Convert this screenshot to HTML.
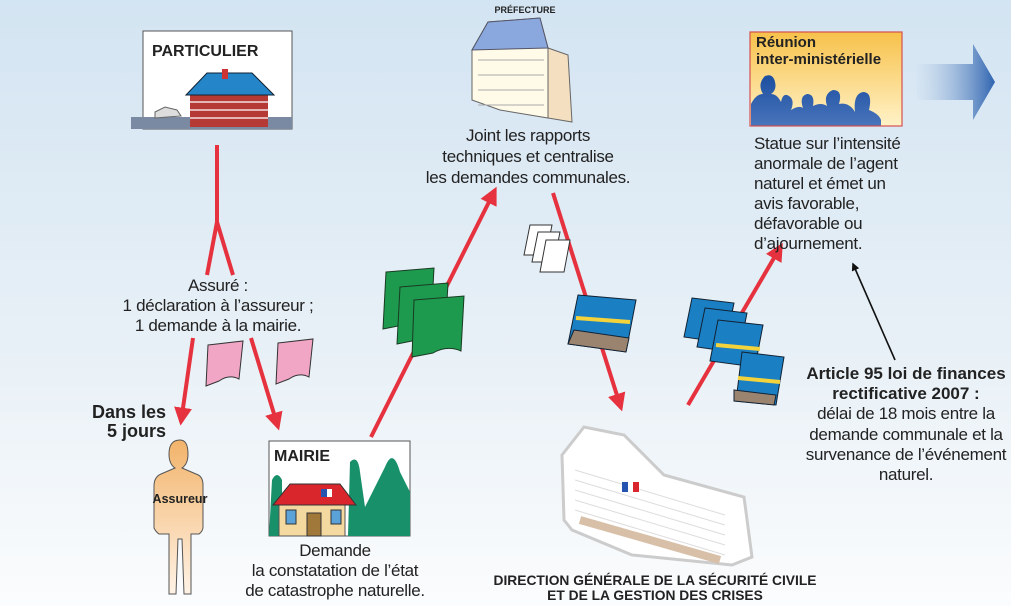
<!DOCTYPE html>
<html><head><meta charset="utf-8"><style>
html,body{margin:0;padding:0;width:1011px;height:606px;overflow:hidden}
svg{display:block}
text{font-family:"Liberation Sans",sans-serif;fill:#222}
.t{font-size:17px;letter-spacing:-0.3px}
.b{font-weight:bold}
</style></head><body>
<svg width="1011" height="606" viewBox="0 0 1011 606" xmlns="http://www.w3.org/2000/svg">
<defs>
<linearGradient id="bg" x1="0" y1="0" x2="0" y2="1"><stop offset="0" stop-color="#d3e4f2"/><stop offset="0.6" stop-color="#e9f1f7"/><stop offset="1" stop-color="#fbfcfd"/></linearGradient>
<linearGradient id="gold" x1="0" y1="0" x2="0" y2="1"><stop offset="0" stop-color="#f7c14a"/><stop offset="1" stop-color="#fff2c8"/></linearGradient>
<linearGradient id="ppl" x1="0" y1="0" x2="0" y2="1"><stop offset="0" stop-color="#1c4fa0"/><stop offset="1" stop-color="#5f86c8"/></linearGradient>
<linearGradient id="arr" x1="0" y1="0" x2="1" y2="0"><stop offset="0" stop-color="#cfe0f0" stop-opacity="0.3"/><stop offset="1" stop-color="#2e63b0"/></linearGradient>
<linearGradient id="man" x1="0" y1="0" x2="0" y2="1"><stop offset="0" stop-color="#f2b36a"/><stop offset="1" stop-color="#fff3e6"/></linearGradient>
<clipPath id="rc"><rect x="750" y="32" width="152" height="94"/></clipPath>
<marker id="ah" viewBox="0 0 10 10" refX="8" refY="5" markerWidth="4.5" markerHeight="4.5" orient="auto"><path d="M0,0L10,5L0,10z" fill="#e6323e"/></marker>
<marker id="bh" viewBox="0 0 10 10" refX="8" refY="5" markerWidth="5" markerHeight="5" orient="auto"><path d="M0,0L10,5L0,10z" fill="#111"/></marker>
</defs>
<rect width="1011" height="606" fill="url(#bg)"/>

<!-- PARTICULIER -->
<rect x="143" y="31" width="149" height="98" fill="#fff" stroke="#555" stroke-width="1"/>
<text x="152" y="56" class="b" font-size="16">PARTICULIER</text>
<rect x="131" y="117" width="161" height="12" fill="#7b8aa3"/>
<rect x="190" y="94" width="78" height="33" fill="#b53a36"/>
<g stroke="#fff" stroke-width="1.3"><line x1="190" y1="102" x2="268" y2="102"/><line x1="190" y1="110" x2="268" y2="110"/><line x1="190" y1="118" x2="268" y2="118"/></g>
<polygon points="186,95 207,73 252,73 274,95" fill="#2486c8" stroke="#123" stroke-width="1"/>
<rect x="222" y="69" width="6" height="10" fill="#c33"/>
<path d="M155,112 l10,-5 l12,3 l4,6 l-26,2z" fill="#ddd" stroke="#666"/>

<!-- red connectors -->
<g stroke="#e6323e" stroke-width="4" fill="none">
<polyline points="217,145 217,222"/><line x1="217" y1="222" x2="207" y2="275"/><line x1="217" y1="222" x2="233" y2="275"/>
<line x1="193" y1="338" x2="181" y2="422" marker-end="url(#ah)"/>
<line x1="251" y1="338" x2="278" y2="427" marker-end="url(#ah)"/>
<line x1="371" y1="437" x2="495" y2="190" marker-end="url(#ah)"/>
<line x1="553" y1="193" x2="621" y2="408" marker-end="url(#ah)"/>
<line x1="688" y1="405" x2="781" y2="246" marker-end="url(#ah)"/>
</g>
<line x1="895" y1="360" x2="853" y2="264" stroke="#111" stroke-width="1.6" marker-end="url(#bh)"/>

<text class="t" text-anchor="middle"><tspan x="218" y="291">Assuré :</tspan><tspan x="218" y="311">1 déclaration à l’assureur ;</tspan><tspan x="218" y="331">1 demande à la mairie.</tspan></text>

<!-- pink docs -->
<g fill="#f0a6c4" stroke="#333" stroke-width="1">
<path d="M208,345 l35,-4 l-4,38 q-10,-5 -20,2 l-13,5z"/>
<path d="M278,343 l35,-4 l-4,38 q-10,-5 -20,2 l-13,5z"/>
</g>

<text class="b" font-size="18" text-anchor="end"><tspan x="166" y="418">Dans les</tspan><tspan x="166" y="437">5 jours</tspan></text>

<!-- Assureur -->
<path d="M180,440 q-11,0 -11,14 q0,10 6,14 l-14,6 q-7,3 -7,12 l0,42 q2,4 5,6 l10,0 l0,60 l7,0 l2,-55 l4,0 l2,55 l7,0 l0,-60 l8,0 q4,-3 4,-7 l0,-42 q0,-9 -7,-11 l-14,-6 q6,-4 6,-14 q0,-14 -8,-14z" fill="url(#man)" stroke="#555" stroke-width="1"/>
<text x="180" y="503" text-anchor="middle" class="b" font-size="12.5">Assureur</text>

<!-- MAIRIE -->
<rect x="269" y="441" width="141" height="95" fill="#fff" stroke="#555"/>
<path d="M350,462 q8,-8 10,10 l5,35 l20,-40 q8,-20 15,5 l10,20 l0,44 l-62,0z" fill="#18906a"/>
<path d="M272,480 q5,-10 10,0 l0,56 l-13,0z" fill="#18906a"/>
<text x="274" y="461" class="b" font-size="16">MAIRIE</text>
<rect x="279" y="500" width="66" height="36" fill="#f3d9a0" stroke="#555"/>
<polygon points="273,505 290,484 340,484 356,505" fill="#d9252c" stroke="#333"/>
<rect x="286" y="510" width="10" height="14" fill="#5aa2d8" stroke="#333"/>
<rect x="331" y="510" width="10" height="14" fill="#5aa2d8" stroke="#333"/>
<rect x="307" y="513" width="14" height="23" fill="#a0783a" stroke="#333"/>
<rect x="321" y="489" width="6" height="8" fill="#2454b0"/><rect x="327" y="489" width="5" height="8" fill="#fff"/><rect x="332" y="489" width="6" height="8" fill="#d9252c"/>
<text class="t" text-anchor="middle"><tspan x="335" y="556">Demande</tspan><tspan x="335" y="576">la constatation de l’état</tspan><tspan x="335" y="596">de catastrophe naturelle.</tspan></text>

<!-- green docs -->
<g fill="#1d9a4e" stroke="#1a3a22" stroke-width="1">
<path d="M386,272 l48,-4 l-3,55 q-14,-6 -28,2 l-20,4z"/>
<path d="M400,287 l48,-4 l-3,55 q-14,-6 -28,2 l-20,4z"/>
<path d="M414,300 l50,-4 l-3,55 q-14,-6 -28,2 l-21,4z"/>
</g>

<!-- Préfecture -->
<text x="525" y="13" text-anchor="middle" class="b" font-size="9">PRÉFECTURE</text>
<polygon points="472,50 488,22 540,18 548,48 548,118 500,110 472,100" fill="#fffbe8" stroke="#666"/>
<polygon points="548,48 568,55 572,122 548,118" fill="#f4e0c0" stroke="#666"/>
<polygon points="472,50 488,22 540,18 548,48" fill="#8aa8de" stroke="#556"/>
<g stroke="#aaa" stroke-width="1" fill="none"><path d="M478,60 h66 M478,75 h66 M478,90 h66 M478,105 h66"/></g>
<text class="t" text-anchor="middle"><tspan x="528" y="141">Joint les rapports</tspan><tspan x="528" y="162">techniques et centralise</tspan><tspan x="528" y="183">les demandes communales.</tspan></text>

<!-- white docs -->
<g fill="#fff" stroke="#333"><path d="M530,225 l22,0 l-6,30 l-22,0z"/><path d="M538,232 l22,0 l-6,30 l-22,0z"/><path d="M546,240 l24,0 l-6,32 l-24,0z"/></g>

<!-- folders -->
<g stroke="#123" stroke-width="1">
<path d="M578,295 l58,5 l-10,52 l-58,-8z" fill="#1b7fc4"/>
<path d="M574,330 l55,8 l-3,14 l-58,-8z" fill="#9a8470"/>
<line x1="576" y1="318" x2="630" y2="322" stroke="#f3d33c" stroke-width="4"/>
<path d="M692,298 l42,5 l-8,40 l-42,-6z" fill="#1b7fc4"/>
<path d="M705,308 l42,5 l-8,40 l-42,-6z" fill="#1b7fc4"/>
<path d="M718,320 l45,5 l-8,42 l-45,-6z" fill="#1b7fc4"/>
<path d="M742,352 l42,5 l-8,48 l-40,-4z" fill="#1b7fc4"/>
<path d="M734,390 l42,5 l-2,10 l-40,-4z" fill="#9a8470"/>
<line x1="738" y1="378" x2="780" y2="382" stroke="#f3d33c" stroke-width="4"/>
<line x1="716" y1="345" x2="760" y2="349" stroke="#f3d33c" stroke-width="4"/>
</g>

<!-- Réunion -->
<rect x="750" y="32" width="152" height="94" fill="url(#gold)"/>
<g clip-path="url(#rc)">
<path d="M751,128 l0,-24 q5,-10 12,-10 q-6,-10 2,-18 q8,-3 10,6 q2,8 -4,12 q6,0 10,8 q2,-10 8,-6 q6,4 2,14 q8,-5 12,-2 q-4,-12 4,-14 q8,0 6,12 q8,-4 14,0 q-4,-12 6,-16 q10,0 6,14 q10,-2 16,8 q-2,-18 8,-20 q10,0 6,18 q10,4 12,10 l0,30z" fill="url(#ppl)"/>
</g>
<rect x="750" y="32" width="152" height="94" fill="none" stroke="#d55050" stroke-width="1.2"/>
<text class="b" font-size="15"><tspan x="756" y="47">Réunion</tspan><tspan x="756" y="64">inter-ministérielle</tspan></text>
<text class="t"><tspan x="754" y="149">Statue sur l’intensité</tspan><tspan x="754" y="169">anormale de l’agent</tspan><tspan x="754" y="189">naturel et émet un</tspan><tspan x="754" y="209">avis favorable,</tspan><tspan x="754" y="229">défavorable ou</tspan><tspan x="754" y="249">d’ajournement.</tspan></text>

<!-- big arrow -->
<polygon points="917,64 973,64 973,44 995,82 973,120 973,100 917,100" fill="url(#arr)"/>

<!-- Article -->
<text text-anchor="middle" font-size="17"><tspan x="906" y="379" class="b">Article 95 loi de finances</tspan><tspan x="906" y="399" class="b">rectificative 2007 :</tspan><tspan x="906" y="419" class="t">délai de 18 mois entre la</tspan><tspan x="906" y="440" class="t">demande communale et la</tspan><tspan x="906" y="460" class="t">survenance de l’événement</tspan><tspan x="906" y="480" class="t">naturel.</tspan></text>

<!-- DGSCGC building -->
<path d="M562,455 l22,-28 l40,8 l40,40 l80,22 l8,60 l-20,8 l-100,-10 l-60,-25 l-8,-10z" fill="#fff" stroke="#ccc" stroke-width="3"/>
<g stroke="#ddd" stroke-width="1"><path d="M575,470 l150,45 M575,480 l150,45 M575,490 l150,45 M575,500 l150,45 M575,510 l150,45"/></g>
<path d="M580,520 l140,40" stroke="#d8c0a8" stroke-width="8"/>
<g><rect x="622" y="482" width="6" height="10" fill="#2454b0"/><rect x="628" y="482" width="5" height="10" fill="#fff"/><rect x="633" y="482" width="6" height="10" fill="#d9252c"/></g>
<text text-anchor="middle" class="b" font-size="13.8"><tspan x="655" y="585">DIRECTION GÉNÉRALE DE LA SÉCURITÉ CIVILE</tspan><tspan x="655" y="600">ET DE LA GESTION DES CRISES</tspan></text>
</svg>
</body></html>
